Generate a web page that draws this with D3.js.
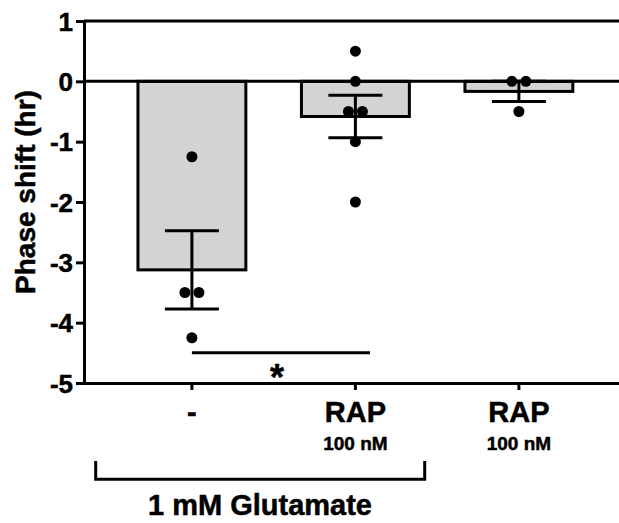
<!DOCTYPE html>
<html>
<head>
<meta charset="utf-8">
<script src="https://cdn.jsdelivr.net/npm/d3@7.9.0/dist/d3.min.js"></script>
<style>
  body { margin: 0; background: #fff; }
  text { font-family: "Liberation Sans", Arial, sans-serif; font-weight: bold; fill: #000; stroke: #000; stroke-width: 0.5px; }
</style>
</head>
<body>
<svg id="chart"></svg>
<script>
// data
const groups = ["a", "b", "c"];
const tickLabels = ["-", "RAP", "RAP"];
const subLabels = ["", "100 nM", "100 nM"];
const means = [-3.125, -0.583, -0.167];
const sems = [0.65, 0.352, 0.167];
const points = [
  [-1.25, -3.5, -3.5, -4.25],
  [0.5, 0, -0.5, -0.5, -1, -2],
  [0, 0, -0.5]
];
const yTicks = [-5, -4, -3, -2, -1, 0, 1];
const sigValue = -4.5;

const width = 619;
const height = 523;

const svg = d3.select('#chart')
  .attr('width', width)
  .attr('height', height);

const y = d3.scaleLinear().domain([-5, 1]).range([383, 21]);

const x = d3.scaleBand()
  .domain(groups)
  .range([84, 626.8])
  .paddingInner(0.34)
  .paddingOuter(0.33);

const cx = d => x(d) + x.bandwidth() / 2;

// bars
svg.append('g')
  .selectAll('rect')
  .data(groups)
  .join('rect')
  .attr('x', d => x(d))
  .attr('y', y(0))
  .attr('width', x.bandwidth())
  .attr('height', (d, i) => y(means[i]) - y(0))
  .attr('fill', '#d3d3d3')
  .attr('stroke', '#000')
  .attr('stroke-width', 3);

// horizontal lines at 1 and 0
svg.append('g')
  .selectAll('line')
  .data([1, 0])
  .join('line')
  .attr('x1', 84)
  .attr('x2', width)
  .attr('y1', d => y(d))
  .attr('y2', d => y(d))
  .attr('stroke', '#000')
  .attr('stroke-width', 3);

// y axis
const yAxis = svg.append('g')
  .attr('transform', 'translate(84,0)')
  .call(d3.axisLeft(y).tickValues(yTicks).tickSize(8).tickPadding(3).tickFormat(d3.format('d')));
yAxis.select('.domain').attr('stroke-width', 3);
yAxis.selectAll('.tick line').attr('stroke-width', 3);
yAxis.selectAll('.tick text')
  .attr('font-size', 26)
  .attr('font-family', '"Liberation Sans", Arial, sans-serif')
  .attr('font-weight', 'bold')
  .attr('dy', '0.35em')
  .text(d => d < 0 ? '-' + Math.abs(d) : d);

// x axis
const xAxis = svg.append('g')
  .attr('transform', `translate(0,${y(-5)})`)
  .call(d3.axisBottom(x).tickSize(7).tickSizeOuter(0).tickFormat(''));
xAxis.select('.domain').attr('stroke-width', 3);
xAxis.selectAll('.tick line').attr('stroke-width', 3);

svg.append('g')
  .selectAll('text')
  .data(groups)
  .join('text')
  .attr('x', d => cx(d))
  .attr('y', 422)
  .attr('text-anchor', 'middle')
  .attr('font-size', 29)
  .text((d, i) => tickLabels[i]);

svg.append('g')
  .selectAll('text')
  .data(groups)
  .join('text')
  .attr('x', d => cx(d))
  .attr('y', 450)
  .attr('text-anchor', 'middle')
  .attr('font-size', 19)
  .text((d, i) => subLabels[i]);

// error bars
const capW = 54;
const eb = svg.append('g')
  .attr('stroke', '#000')
  .attr('stroke-width', 3);
groups.forEach((g, i) => {
  const hi = means[i] + sems[i];
  const lo = means[i] - sems[i];
  eb.append('line')
    .attr('x1', cx(g)).attr('x2', cx(g))
    .attr('y1', y(hi)).attr('y2', y(lo));
  [hi, lo].forEach(v => {
    eb.append('line')
      .attr('x1', cx(g) - capW / 2).attr('x2', cx(g) + capW / 2)
      .attr('y1', y(v)).attr('y2', y(v));
  });
});

// points, duplicates spread side by side
const dots = [];
points.forEach((vals, i) => {
  const counts = d3.rollup(vals, v => v.length, v => v);
  const seen = new Map();
  vals.forEach(v => {
    const n = counts.get(v);
    const k = seen.get(v) || 0;
    seen.set(v, k + 1);
    const off = (k - (n - 1) / 2) * 14;
    dots.push({ g: groups[i], v, off });
  });
});

svg.append('g')
  .selectAll('circle')
  .data(dots)
  .join('circle')
  .attr('cx', d => cx(d.g) + d.off)
  .attr('cy', d => y(d.v))
  .attr('r', 5.5)
  .attr('fill', '#000');

// significance line
svg.append('line')
  .attr('x1', cx('a'))
  .attr('x2', 370)
  .attr('y1', y(sigValue))
  .attr('y2', y(sigValue))
  .attr('stroke', '#000')
  .attr('stroke-width', 3);

svg.append('text')
  .attr('x', 277)
  .attr('y', 390)
  .attr('text-anchor', 'middle')
  .attr('font-size', 36)
  .text('*');

// glutamate bracket
svg.append('path')
  .attr('d', 'M95.7,461V479.3H424.7V461')
  .attr('fill', 'none')
  .attr('stroke', '#000')
  .attr('stroke-width', 3);

svg.append('text')
  .attr('x', 260)
  .attr('y', 515)
  .attr('text-anchor', 'middle')
  .attr('font-size', 29)
  .text('1 mM Glutamate');

// y axis title
svg.append('text')
  .attr('transform', 'translate(35,192) rotate(-90)')
  .attr('text-anchor', 'middle')
  .attr('font-size', 28)
  .text('Phase shift (hr)');
</script>
</body>
</html>
